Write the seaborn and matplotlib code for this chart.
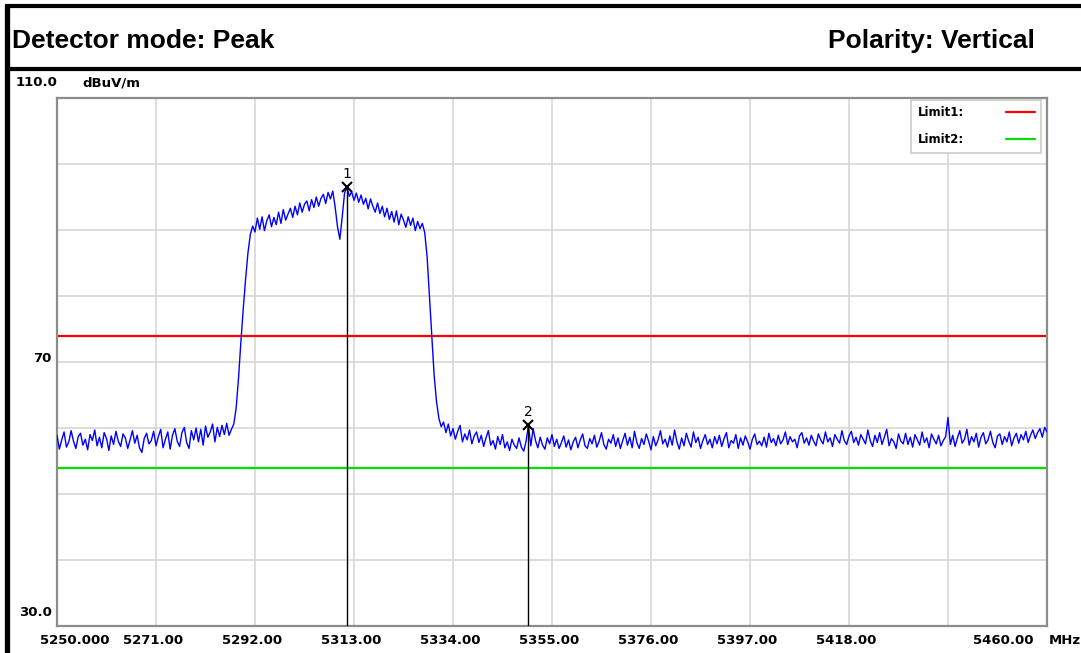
import numpy as np
import pandas as pd
import matplotlib
matplotlib.use("Agg")
import matplotlib.pyplot as plt
from matplotlib.lines import Line2D
import seaborn as sns

# ---------------- data ----------------
f_start, f_stop, f_step = 5250.0, 5460.0, 0.5
level_dbuv = [
    # 5250.0 - 5259.5
    58.9, 56.8, 58.2, 59.4, 57.1, 57.9, 59.6, 58.0, 56.9, 58.7, 59.2, 57.4, 58.3, 56.7, 59.0, 58.1, 59.7, 57.3, 58.6, 57.0,
    # 5260
    59.3, 58.4, 56.6, 58.8, 57.5, 59.5, 58.0, 57.2, 59.1, 58.5, 56.9, 58.2, 59.6, 57.7, 58.9, 57.0, 56.3, 58.4, 59.2, 57.6,
    # 5270
    58.1, 59.5, 57.3, 58.7, 59.8, 57.0, 58.3, 59.4, 56.8, 58.9, 59.9, 58.0, 57.2, 59.3, 60.1, 57.8, 56.9, 59.6, 58.2, 60.0,
    # 5280
    57.9, 59.8, 57.4, 60.3, 58.6, 59.4, 60.6, 57.9, 60.1, 58.7, 60.4, 59.0, 60.7, 58.9, 59.8, 60.6, 63.0, 67.5, 73.0, 78.0,
    # 5290
    82.5, 86.5, 89.3, 90.6, 89.7, 91.8, 90.1, 92.0, 89.9, 91.4, 92.3, 90.5, 91.9, 90.8, 92.7, 91.0, 93.1, 91.5, 92.4, 93.3,
    # 5300
    91.9, 93.6, 92.3, 94.1, 92.7, 93.9, 94.4, 92.9, 94.6, 93.4, 95.0, 93.6, 94.8, 95.4, 94.0, 95.7, 94.7, 95.9, 93.5, 90.5,
    # 5310
    88.6, 92.0, 95.6, 96.5, 95.1, 95.8, 94.5, 95.6, 94.2, 95.3, 93.9, 94.8, 93.2, 94.7, 93.6, 92.7, 94.1, 92.5, 93.6, 92.0,
    # 5320
    93.3, 91.6, 92.8, 91.2, 92.9, 90.8, 92.4, 91.5, 90.4, 92.0, 90.7, 91.8, 89.9, 91.3, 90.2, 91.0, 89.6, 86.0, 80.0, 74.0,
    # 5330
    68.0, 64.0, 61.5, 60.2, 60.9, 59.3, 60.6, 58.8, 59.9, 58.3, 59.5, 60.4, 57.9, 59.1, 58.2, 59.7, 57.6, 58.8, 59.4, 57.8,
    # 5340
    58.9, 57.2, 58.5, 59.6, 57.4, 58.1, 56.8, 58.7, 57.5, 59.0, 57.0, 57.9, 56.6, 58.3, 57.4, 56.9, 58.5, 57.1, 56.5, 58.0,
    # 5350
    60.4, 57.3, 59.9, 58.1, 57.0, 58.6, 57.4, 56.8, 58.5, 57.6, 59.0, 57.2, 58.3, 56.9, 57.8, 58.8, 57.1, 58.2, 56.7, 57.9,
    # 5360
    58.6, 57.0, 58.2, 59.1, 57.3, 56.9, 58.4, 57.6, 58.9, 57.1, 58.0, 59.3, 57.5, 56.8, 58.3, 57.7, 59.0, 57.2, 58.5, 56.9,
    # 5370
    58.1, 59.2, 57.4, 58.6, 57.0, 59.5, 57.8, 56.9, 58.4, 57.5, 59.1, 58.0, 56.7, 58.7, 57.3, 58.2, 59.6, 57.6, 58.3, 57.1,
    # 5380
    58.8, 57.4, 59.7, 57.9, 56.8, 58.5, 57.3, 59.2, 58.0, 57.1, 59.4, 57.8, 58.6, 56.9, 58.1, 59.0, 57.5, 58.3, 57.0, 58.7,
    # 5390
    57.6, 58.9, 57.2, 58.4, 59.3, 57.0, 58.1, 57.7, 59.0, 56.9, 58.5, 57.4, 58.8, 57.9, 56.8, 58.3, 59.1, 57.5, 58.0, 57.3,
    # 5400
    58.6, 57.1, 59.2, 57.8, 58.4, 57.3, 58.9, 57.6, 58.2, 59.4, 57.5, 58.7, 57.9, 58.3, 57.0, 58.8, 59.3, 57.7, 58.5, 57.4,
    # 5410
    58.9, 58.0, 57.3, 59.1, 58.2, 57.6, 59.4, 57.9, 58.5, 57.2, 59.0, 58.3, 57.7, 59.6, 58.1, 57.5, 58.8, 59.5, 57.8, 58.6,
    # 5420
    57.4, 59.0, 58.3, 57.6, 59.7, 58.1, 57.2, 58.9, 57.8, 59.3, 57.5, 58.6, 59.8, 57.3, 58.4, 57.9, 56.9, 59.1, 58.0, 57.6,
    # 5430
    59.2, 57.5, 58.6, 57.1, 59.0, 58.2, 57.4, 59.4, 57.8, 58.5, 57.0, 59.1, 58.3, 57.6, 58.9, 57.3, 58.1, 58.7, 61.6, 57.5,
    # 5440
    58.9, 57.2, 58.5, 59.6, 57.7, 58.3, 59.8, 57.4, 58.7, 57.9, 59.2, 57.1, 58.6, 59.3, 57.6, 58.2, 59.5, 57.8, 57.0, 58.8,
    # 5450
    59.1, 57.5, 58.7, 57.9, 59.4, 57.3, 58.5, 59.2, 57.7, 59.0, 58.2, 59.5, 57.8, 58.9, 59.7, 58.4, 59.3, 59.9, 58.6, 60.1,
    # 5460
    59.4,
]
limit_names = ["Limit1:", "Limit2:"]
limit_values = [74.0, 54.0]
limit_colors = ["#ff0000", "#00e000"]
marker2_freq = 5350.0

x_ticks = [5250, 5271, 5292, 5313, 5334, 5355, 5376, 5397, 5418, 5439, 5460]
x_tick_labels = ["5250.000", "5271.00", "5292.00", "5313.00", "5334.00", "5355.00",
                 "5376.00", "5397.00", "5418.00", "", "5460.00"]
y_ticks = [30, 40, 50, 60, 70, 80, 90, 100, 110]
y_labels = {110: "110.0", 70: "70", 30: "30.0"}

# ---------------- figure ----------------
sns.set_style("white")
plt.rcParams["font.family"] = ["DejaVu Sans"]
plt.rcParams["text.color"] = "black"

W, H = 1081, 653
fig = plt.figure(figsize=(W / 100, H / 100), dpi=100)
fig.patch.set_facecolor("white")

ax = fig.add_axes([57 / W, (H - 626) / H, 990 / W, 528 / H])

freqs = f_start + f_step * np.arange(len(level_dbuv))
df = pd.DataFrame({"freq": freqs, "level": level_dbuv})

sns.lineplot(data=df, x="freq", y="level", color="#0000ff", linewidth=1.0, ax=ax,
             legend=False, zorder=3)

handles = []
for name, val, col in zip(limit_names, limit_values, limit_colors):
    ax.axhline(val, color=col, linewidth=1.6, zorder=2)
    handles.append(Line2D([0], [0], color=col, linewidth=1.6, label=name))

ax.set_xlim(f_start, f_stop)
ax.set_ylim(30, 110)
ax.set_xticks(x_ticks)
ax.set_yticks(y_ticks)
ax.set_xticklabels([])
ax.set_yticklabels([])
ax.tick_params(length=0)
ax.grid(True, color="#d6d3ce", linewidth=1.1)
ax.set_axisbelow(True)
ax.set_xlabel("")
ax.set_ylabel("")
for s in ax.spines.values():
    s.set_color("#8c8c8c")
    s.set_linewidth(1.6)
    s.set_visible(True)

lab_font = dict(fontsize=9.5, fontweight="bold", color="black")

# x labels
xt = ax.get_xaxis_transform()
for i, (v, lab) in enumerate(zip(x_ticks, x_tick_labels)):
    if not lab:
        continue
    dx = -3
    if i == 0:
        dx = 18
    elif i == len(x_ticks) - 1:
        dx = -44
    ax.annotate(lab, xy=(v, 0), xycoords=xt, xytext=(dx, -14), textcoords="offset pixels",
                ha="center", va="center", annotation_clip=False, **lab_font)
ax.annotate("MHz", xy=(x_ticks[-1], 0), xycoords=xt, xytext=(2, -14), textcoords="offset pixels",
            ha="left", va="center", annotation_clip=False, **lab_font)

# y labels
yt = ax.get_yaxis_transform()
ax.annotate(y_labels[110], xy=(0, 110), xycoords=yt, xytext=(0, 15), textcoords="offset pixels",
            ha="right", va="center", annotation_clip=False, **lab_font)
ax.annotate("dBuV/m", xy=(0, 110), xycoords=yt, xytext=(25, 15), textcoords="offset pixels",
            ha="left", va="center", annotation_clip=False, **lab_font)
ax.annotate(y_labels[70], xy=(0, 70), xycoords=yt, xytext=(-6, 3), textcoords="offset pixels",
            ha="right", va="center", annotation_clip=False, **lab_font)
ax.annotate(y_labels[30], xy=(0, 30), xycoords=yt, xytext=(-5, 14), textcoords="offset pixels",
            ha="right", va="center", annotation_clip=False, **lab_font)

# markers
lv = np.asarray(level_dbuv)
i1 = int(np.argmax(lv))
i2 = int(np.argmin(np.abs(freqs - marker2_freq)))
for num, idx in ((1, i1), (2, i2)):
    fx, fy = freqs[idx], lv[idx]
    ax.vlines(fx, 30, fy, color="black", linewidth=1.0, zorder=4)
    ax.plot([fx], [fy], marker="x", color="black", markersize=6.5, markeredgewidth=1.5, zorder=5)
    ax.annotate(str(num), xy=(fx, fy), xytext=(0, 13), textcoords="offset pixels",
                ha="center", va="center", fontsize=10, color="black", zorder=5)

# legend
leg = ax.legend(handles=handles, loc="upper right",
                bbox_to_anchor=((1041 - 57) / 990, (626 - 100) / 528), borderaxespad=0,
                markerfirst=False, fancybox=False, framealpha=1, edgecolor="#cfcbc4",
                prop=dict(size=8.5, weight="bold"), handlelength=2.4, handletextpad=3.6,
                labelspacing=1.15, borderpad=0.55)
leg.get_frame().set_linewidth(1.2)
for t in leg.get_texts():
    t.set_color("black")

# header and frame lines
def px(x):
    return x / W

def py(y):
    return 1 - y / H

for xs, ys, lw in (([5, W], [6, 6], 3.0), ([5, W], [69, 69], 3.0), ([7.5, 7.5], [4, H], 3.8)):
    fig.add_artist(Line2D([px(xs[0]), px(xs[1])], [py(ys[0]), py(ys[1])], color="black",
                          linewidth=lw, solid_capstyle="butt", transform=fig.transFigure))

fig.text(px(12), py(48), "Detector mode: Peak", fontsize=19, fontweight="bold", color="black",
         family=["Liberation Sans", "DejaVu Sans"], ha="left", va="baseline")
fig.text(px(828), py(48), "Polarity: Vertical", fontsize=19, fontweight="bold", color="black",
         family=["Liberation Sans", "DejaVu Sans"], ha="left", va="baseline")

fig.savefig("out.png", dpi=100)
